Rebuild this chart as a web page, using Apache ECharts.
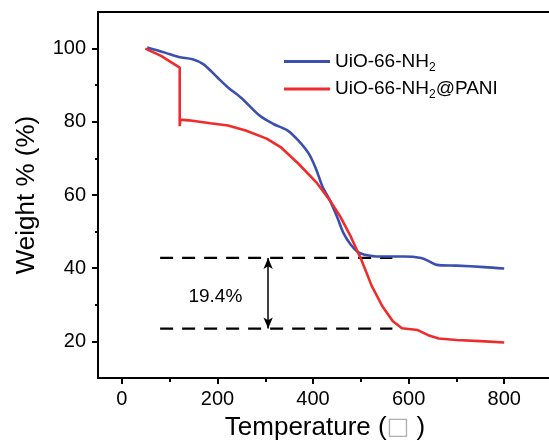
<!DOCTYPE html>
<html>
<head>
<meta charset="utf-8">
<script src="https://cdn.jsdelivr.net/npm/echarts@6/dist/echarts.min.js"></script>
<style>
  html, body { margin: 0; padding: 0; background: #fff; }
  #chart { width: 549px; height: 443px; }
</style>
</head>
<body>
<div id="chart"></div>
<script>
// UiO-66-NH2 TGA curve
const tempA = [53, 90, 119, 148, 171, 200, 222, 250, 288, 317, 347, 369, 391, 406, 420, 435, 450, 464, 479, 494, 508, 538, 589, 626, 644, 659, 700, 758, 800]
const weightA = [100.3, 98.9, 97.7, 97.1, 95.7, 92.1, 89.4, 86.5, 81.7, 79.4, 77.6, 74.9, 71.3, 67.2, 62.2, 58.6, 54.1, 49.5, 46.4, 44.4, 43.7, 43.2, 43.2, 42.8, 41.8, 40.9, 40.7, 40.3, 39.9]
// UiO-66-NH2@PANI TGA curve
const tempB = [49, 82, 121, 121, 122, 140, 185, 222, 259, 303, 332, 369, 406, 435, 457, 479, 501, 523, 545, 567, 586, 619, 641, 663, 700, 760, 800]
const weightB = [100, 98.0, 94.8, 78.8, 80.6, 80.4, 79.6, 79.0, 77.6, 75.4, 73.1, 68.6, 63.6, 58.6, 54.1, 48.6, 42.3, 35.1, 29.6, 25.5, 23.6, 23.1, 21.7, 20.8, 20.4, 20.0, 19.7]

const seriesNames = ['UiO-66-NH2', 'UiO-66-NH2@PANI']
const xMajorTicks = [0, 200, 400, 600, 800]
const xMinorTicks = [100, 300, 500, 700]
const yMajorTicks = [20, 40, 60, 80, 100]
const yMinorTicks = [30, 50, 70, 90]

// annotation: residual difference
const dashRange = [80, 566]
const dashLevels = [42.8, 23.5]
const arrowX = 306
const diffLabelPos = [195.6, 32.3]
const diffLabel = '19.4%'

const font = '"Liberation Sans", Arial, sans-serif'
const black = '#000'

const chart = echarts.init(document.getElementById('chart'))

const baseX = {
  type: 'value',
  min: -50,
  max: 900,
  position: 'bottom',
  splitLine: { show: false }
}
const baseY = {
  type: 'value',
  min: 10,
  max: 110,
  position: 'left',
  splitLine: { show: false }
}

const option = {
  animation: false,
  grid: {
    left: 98,
    top: 12,
    width: 454,
    height: 366,
    outerBoundsMode: 'none',
    containLabel: false,
    show: true,
    borderColor: black,
    borderWidth: 2
  },
  legend: {
    data: seriesNames,
    orient: 'vertical',
    left: 279,
    top: 47,
    itemWidth: 46,
    itemHeight: 3,
    itemGap: 5,
    icon: 'rect',
    formatter: (name) => name === seriesNames[0]
      ? '{n|UiO-66-NH}{s|2}'
      : '{n|UiO-66-NH}{s|2}{n|@PANI}',
    textStyle: {
      color: black,
      fontFamily: font,
      rich: {
        n: { fontSize: 19, fontFamily: font, color: black, lineHeight: 26, verticalAlign: 'middle' },
        s: { fontSize: 12, fontFamily: font, color: black, lineHeight: 26, verticalAlign: 'bottom', padding: [0, 0, 1, 0] }
      }
    }
  },
  xAxis: [
    {
      ...baseX,
      name: '{t|Temperature (}{b|□}{t| )}',
      nameLocation: 'middle',
      nameGap: 37,
      nameTextStyle: {
        rich: {
          t: { fontSize: 26, fontFamily: font, color: black },
          b: { fontSize: 24, fontFamily: '"DejaVu Sans", sans-serif', color: '#b0b0b0' }
        }
      },
      axisLine: { onZero: false, lineStyle: { color: black, width: 2 } },
      axisTick: { customValues: xMajorTicks, length: 6, lineStyle: { color: black, width: 2 } },
      axisLabel: { customValues: xMajorTicks, margin: 11, fontSize: 20, fontFamily: font, color: black }
    },
    {
      ...baseX,
      axisLine: { show: false, onZero: false },
      axisTick: { customValues: xMinorTicks, length: 4, lineStyle: { color: black, width: 2 } },
      axisLabel: { show: false }
    }
  ],
  yAxis: [
    {
      ...baseY,
      name: 'Weight % (%)',
      nameLocation: 'middle',
      nameGap: 58,
      nameTextStyle: { fontSize: 26, fontFamily: font, color: black },
      axisLine: { onZero: false, lineStyle: { color: black, width: 2 } },
      axisTick: { customValues: yMajorTicks, length: 6, lineStyle: { color: black, width: 2 } },
      axisLabel: { customValues: yMajorTicks, margin: 12, fontSize: 20, fontFamily: font, color: black }
    },
    {
      ...baseY,
      axisLine: { show: false, onZero: false },
      axisTick: { customValues: yMinorTicks, length: 3, lineStyle: { color: black, width: 2 } },
      axisLabel: { show: false }
    }
  ],
  series: [
    {
      name: seriesNames[0],
      type: 'line',
      data: tempA.map((t, i) => [t, weightA[i]]),
      smooth: 0.3,
      showSymbol: false,
      color: '#3a4fae',
      lineStyle: { width: 2.6 }
    },
    {
      name: seriesNames[1],
      type: 'line',
      data: tempB.map((t, i) => [t, weightB[i]]),
      smooth: false,
      showSymbol: false,
      color: '#ef2b2b',
      lineStyle: { width: 2.6 }
    },
    // dashed reference lines
    ...dashLevels.map((w) => ({
      type: 'line',
      data: dashRange.map((t) => [t, w]),
      showSymbol: false,
      silent: true,
      z: 1,
      lineStyle: { color: black, width: 2.2, type: [13, 9] }
    })),
    {
      type: 'scatter',
      data: [diffLabelPos],
      symbolSize: 1,
      silent: true,
      itemStyle: { opacity: 1, color: 'rgba(0,0,0,0)' },
      label: {
        show: true,
        position: 'inside',
        formatter: diffLabel,
        fontSize: 19,
        fontFamily: font,
        color: black,
        opacity: 1
      },
      markLine: {
        silent: true,
        symbol: ['arrow', 'arrow'],
        symbolSize: [7, 11],
        label: { show: false },
        lineStyle: { color: black, width: 1.5, type: 'solid', opacity: 1 },
        data: [[{ coord: [arrowX, dashLevels[0]] }, { coord: [arrowX, dashLevels[1]] }]]
      }
    }
  ]
}

chart.setOption(option)
</script>
</body>
</html>
